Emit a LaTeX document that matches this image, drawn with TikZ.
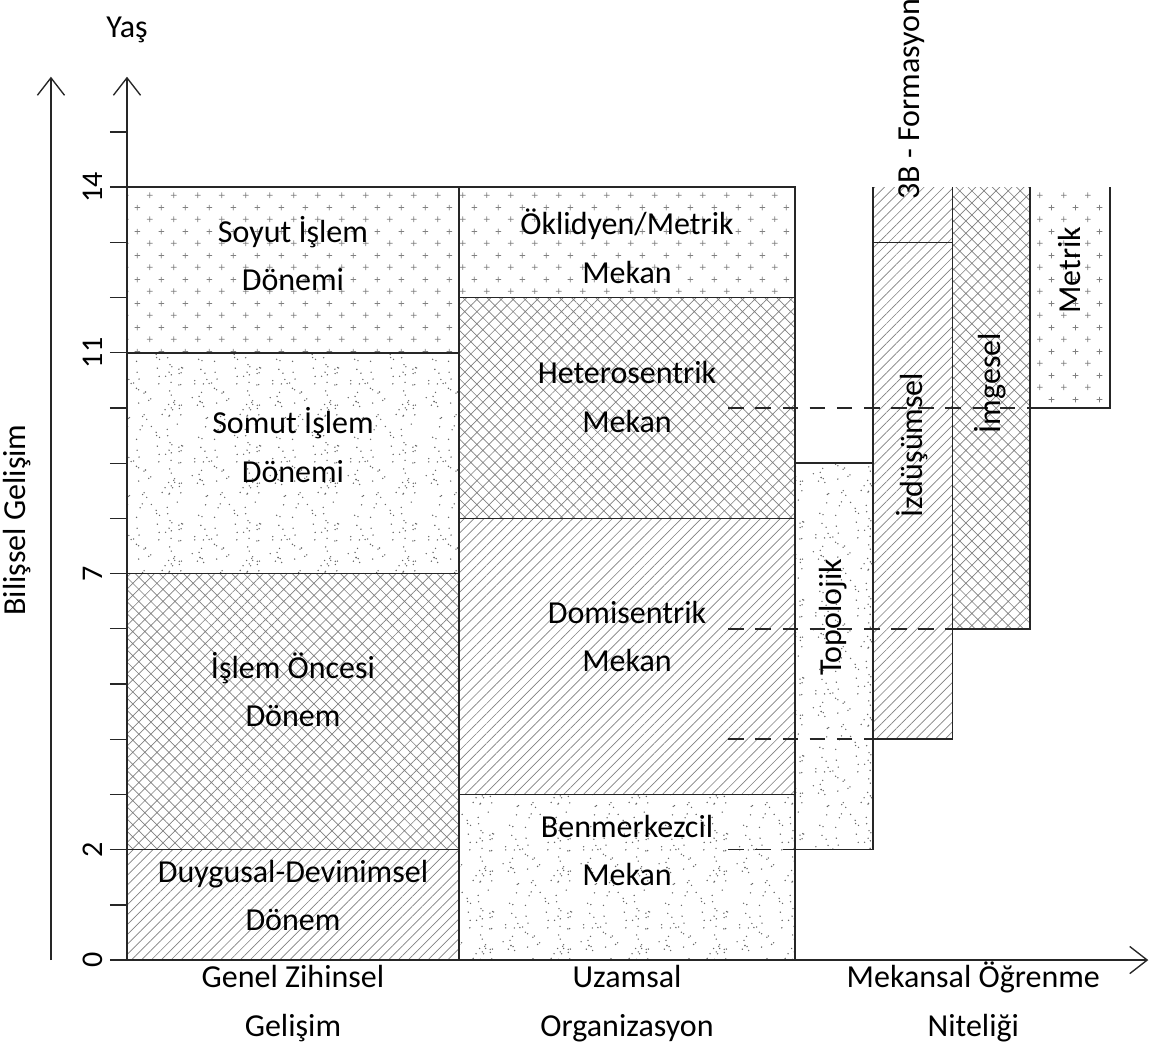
\documentclass[tikz,border=0pt]{standalone}
\usepackage{fontspec}
\setmainfont{Carlito}
\usetikzlibrary{calc}
\usetikzlibrary{arrows.meta, patterns, patterns.meta}

\pgfdeclarepatternformonly{plus}{\pgfqpoint{0pt}{0pt}}{\pgfqpoint{12.4pt}{12.4pt}}{\pgfqpoint{12.4pt}{12.4pt}}{
	\pgfsetlinewidth{0.4pt}
	\pgfpathmoveto{\pgfqpoint{1.6pt}{3.1pt}}\pgfpathlineto{\pgfqpoint{4.6pt}{3.1pt}}
	\pgfpathmoveto{\pgfqpoint{3.1pt}{1.6pt}}\pgfpathlineto{\pgfqpoint{3.1pt}{4.6pt}}
	\pgfpathmoveto{\pgfqpoint{7.8pt}{9.3pt}}\pgfpathlineto{\pgfqpoint{10.8pt}{9.3pt}}
	\pgfpathmoveto{\pgfqpoint{9.3pt}{7.8pt}}\pgfpathlineto{\pgfqpoint{9.3pt}{10.8pt}}
	\pgfusepath{stroke}
}
\pgfdeclarepatternformonly{stipple}{\pgfqpoint{0pt}{0pt}}{\pgfqpoint{40pt}{40pt}}{\pgfqpoint{40pt}{40pt}}{
	\pgfmathsetseed{11}
	\foreach \d in {1,...,75}{
		\pgfmathsetmacro{\px}{0.6+38.8*rnd}
		\pgfmathsetmacro{\py}{0.6+38.8*rnd}
		\pgfpathcircle{\pgfpoint{\px pt}{\py pt}}{0.4pt}
		\pgfusepath{fill}
	}
}

\begin{document}
\begin{tikzpicture}[
		>={Straight Barb[length=9pt,width=14pt]},
		box/.style={draw=black!85, line width=0.8pt},
		axis/.style={black!85, line width=0.7pt},
		plusfill/.style={pattern=plus, pattern color=black!50},
		hatchfill/.style={pattern={Lines[angle=45,distance=3.6pt,line width=0.35pt]}, pattern color=black!50},
		crossfill/.style={pattern={Hatch[angle=45,distance=4.4pt,line width=0.35pt]}, pattern color=black!50},
		stipplefill/.style={pattern=stipple, pattern color=black!60},
		dashline/.style={black!85, line width=0.8pt, dash pattern=on 8pt off 6pt},
		txt/.style={font=\fontsize{16.5}{25}\selectfont, align=center, inner sep=0pt},
		ticktxt/.style={font=\fontsize{15.5}{18}\selectfont, rotate=90, inner sep=0pt},
	]
	\useasboundingbox (-2.30,-1.486) rectangle (18.73,17.39);
	\coordinate (c1) at (6.01,0);
	\coordinate (c2) at (12.10,0);
	\coordinate (c3) at (13.51,0);
	\coordinate (c4) at (14.95,0);
	\coordinate (c5) at (16.36,0);
	\coordinate (c6) at (17.81,0);
	\draw[box, hatchfill] (0,0) rectangle ($(c1)+(0,2)$);
	\draw[box, crossfill] (0,2) rectangle ($(c1)+(0,7)$);
	\draw[box, stipplefill] (0,7) rectangle ($(c1)+(0,11)$);
	\draw[box, plusfill] (0,11) rectangle ($(c1)+(0,14)$);
	\draw[box, stipplefill] (c1) rectangle ($(c2)+(0,3)$);
	\draw[box, hatchfill] ($(c1)+(0,3)$) rectangle ($(c2)+(0,8)$);
	\draw[box, crossfill] ($(c1)+(0,8)$) rectangle ($(c2)+(0,12)$);
	\draw[box, plusfill] ($(c1)+(0,12)$) rectangle ($(c2)+(0,14)$);
	\draw[box, stipplefill] ($(c2)+(0,2)$) rectangle ($(c3)+(0,9)$);
	\draw[box, hatchfill] ($(c3)+(0,4)$) rectangle ($(c4)+(0,13)$);
	\fill[hatchfill] ($(c3)+(0,13)$) rectangle ($(c4)+(0,14)$);
	\draw[box] ($(c3)+(0,14)$) -- ($(c3)+(0,13)$) -- ($(c4)+(0,13)$) -- ($(c4)+(0,14)$);
	\fill[crossfill] ($(c4)+(0,6)$) rectangle ($(c5)+(0,14)$);
	\draw[box] ($(c4)+(0,14)$) -- ($(c4)+(0,6)$) -- ($(c5)+(0,6)$) -- ($(c5)+(0,14)$);
	\fill[plusfill] ($(c5)+(0,10)$) rectangle ($(c6)+(0,14)$);
	\draw[box] ($(c5)+(0,14)$) -- ($(c5)+(0,10)$) -- ($(c6)+(0,10)$) -- ($(c6)+(0,14)$);
	\draw[dashline] (10.89,2) -- ($(c2)+(0,2)$);
	\draw[dashline] (10.89,4) -- ($(c3)+(0,4)$);
	\draw[dashline] (10.89,6) -- ($(c4)+(0,6)$);
	\draw[dashline] (10.89,10) -- ($(c5)+(0,10)$);
	\draw[axis, ->] (-0.31,0) -- (18.5,0);
	\draw[axis, ->] (0,0) -- (0,16);
	\draw[axis, ->] (-1.377,0) -- (-1.377,16);
	\foreach \t in {1,...,15}
		\draw[axis] (-0.31,\t) -- (0,\t);
	\foreach \t in {0,2,7,11,14}
		\node[ticktxt] (t\t) at (-0.62,\t) {\t};
	\node[txt] (soyut) at (3.007,12.8) {Soyut İşlem\\Dönemi};
	\node[txt] (somut) at (3.007,9.33) {Somut İşlem\\Dönemi};
	\node[txt] (oncesi) at (3.007,4.9) {İşlem Öncesi\\Dönem};
	\node[txt] (duygusal) at (3.007,1.17) {Duygusal-Devinimsel\\Dönem};
	\node[txt] (oklid) at (9.058,12.93) {Öklidyen/Metrik\\Mekan};
	\node[txt] (hetero) at (9.058,10.2) {Heterosentrik\\Mekan};
	\node[txt] (domi) at (9.058,5.86) {Domisentrik\\Mekan};
	\node[txt] (benm) at (9.058,1.98) {Benmerkezcil\\Mekan};
	\node[txt, rotate=90] (topo) at (12.79,6.21) {Topolojik};
	\node[txt, rotate=90] (izdu) at (14.22,9.33) {İzdüşümsel};
	\node[txt, rotate=90] (imge) at (15.63,10.45) {İmgesel};
	\node[txt, rotate=90] (metrik) at (17.08,12.5) {Metrik};
	\node[txt, rotate=90] (form) at (14.22,15.6) {3B - Formasyon};
	\node[txt] (genel) at (3.007,-0.76) {\vphantom{Ö}Genel Zihinsel\\Gelişim};
	\node[txt] (uzam) at (9.058,-0.76) {\vphantom{Ö}Uzamsal\\Organizasyon};
	\node[txt] (mekansal) at (15.33,-0.76) {Mekansal Öğrenme\\Niteliği};
	\node[txt] (yas) at (0,16.85) {Yaş};
	\node[txt, rotate=90] (bilissel) at (-1.99,7.97) {Bilişsel Gelişim};
\end{tikzpicture}
\end{document}
